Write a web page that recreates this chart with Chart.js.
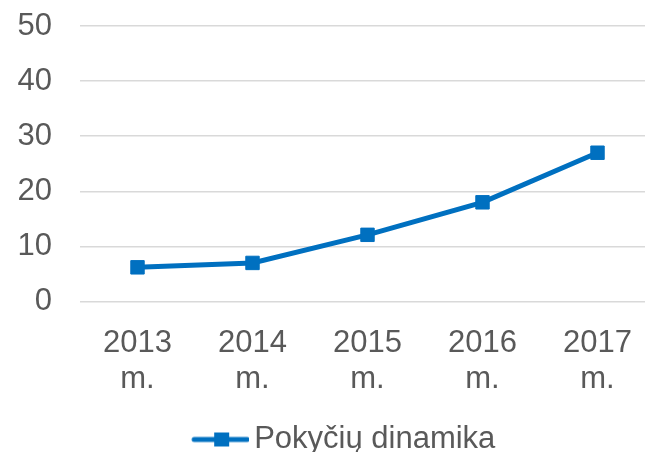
<!DOCTYPE html>
<html>
<head>
<meta charset="utf-8">
<script src="https://cdn.jsdelivr.net/npm/chart.js@4.4.1/dist/chart.umd.min.js"></script>
<style>
    html, body { margin: 0; padding: 0; background: #fff; overflow: hidden; }
    canvas { display: block; }
</style>
</head>
<body>
<canvas id="dynamicsChart" width="655" height="465"></canvas>
<script>
// Chart data
const years = [['2013', 'm.'], ['2014', 'm.'], ['2015', 'm.'], ['2016', 'm.'], ['2017', 'm.']];
const changeValues = [6.2, 7.0, 12.1, 18.0, 27.0];
const seriesName = 'Pokyčių dinamika';
const yMin = 0;
const yMax = 50;
const yStep = 10;

const blue = '#0070C0';
const textGray = '#595959';
const fontFamily = '"Liberation Sans", Arial, sans-serif';

// Legend symbol: line with a square marker (visible part on the right of the image)
function buildLegendSymbol() {
    const c = document.createElement('canvas');
    c.width = 100;
    c.height = 20;
    const ctx = c.getContext('2d');
    ctx.strokeStyle = blue;
    ctx.lineWidth = 5;
    ctx.lineCap = 'round';
    ctx.beginPath();
    ctx.moveTo(45, 10);
    ctx.lineTo(98, 10);
    ctx.stroke();
    ctx.fillStyle = blue;
    ctx.fillRect(65, 3, 15, 14);
    return c;
}

const legendSymbol = buildLegendSymbol();

document.addEventListener('DOMContentLoaded', () => {
    const ctx = document.getElementById('dynamicsChart').getContext('2d');
    new Chart(ctx, {
        type: 'line',
        data: {
            labels: years,
            datasets: [{
                label: seriesName,
                data: changeValues,
                borderColor: blue,
                backgroundColor: blue,
                borderWidth: 5,
                pointStyle: 'rect',
                pointRadius: 9.5,
                pointBorderWidth: 1,
                pointBorderColor: blue,
                pointBackgroundColor: blue,
                tension: 0
            }]
        },
        options: {
            responsive: false,
            animation: false,
            devicePixelRatio: 1,
            layout: {
                autoPadding: false,
                padding: { top: 26, left: 0, right: 0, bottom: 0 }
            },
            plugins: {
                tooltip: { enabled: false },
                legend: {
                    position: 'bottom',
                    labels: {
                        usePointStyle: true,
                        pointStyleWidth: 79,
                        padding: 10,
                        color: textGray,
                        font: { family: fontFamily, size: 31 },
                        generateLabels: chart => Chart.defaults.plugins.legend.labels.generateLabels(chart)
                            .map(item => ({ ...item, pointStyle: legendSymbol }))
                    }
                }
            },
            scales: {
                x: {
                    offset: true,
                    grid: { display: false },
                    border: { display: false },
                    ticks: {
                        color: textGray,
                        padding: 16,
                        maxRotation: 0,
                        font: { family: fontFamily, size: 31, lineHeight: 1.15 }
                    },
                    afterFit: scale => {
                        scale.height = 112.5;
                        scale.paddingLeft = 0;
                        scale.paddingRight = 0;
                    }
                },
                y: {
                    min: yMin,
                    max: yMax,
                    grid: {
                        color: '#d9d9d9',
                        lineWidth: 1.5,
                        drawTicks: false
                    },
                    border: { display: false },
                    ticks: {
                        stepSize: yStep,
                        color: textGray,
                        padding: 28,
                        font: { family: fontFamily, size: 31 }
                    },
                    afterFit: scale => {
                        scale.width = 80;
                        scale.paddingTop = 18;
                        scale.paddingBottom = 18;
                    }
                }
            }
        }
    });
});
</script>
</body>
</html>
